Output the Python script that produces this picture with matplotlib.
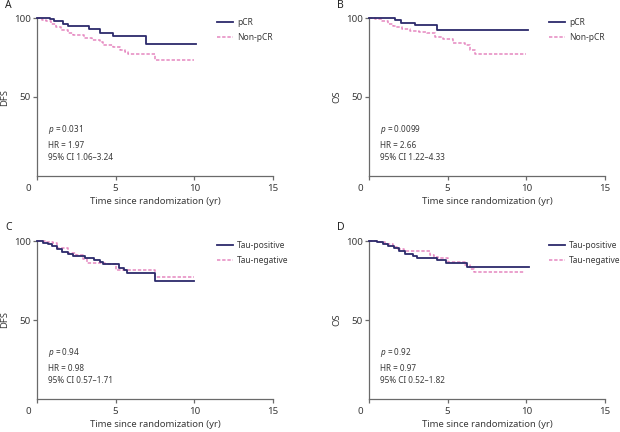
import matplotlib
matplotlib.use("Agg")
import matplotlib.pyplot as plt
import matplotlib.transforms as mtransforms

plt.rcParams['font.family'] = ['Noto Sans', 'DejaVu Sans']
plt.rcParams['mathtext.fontset'] = 'custom'
plt.rcParams['mathtext.it'] = 'Noto Sans:italic'
plt.rcParams['mathtext.rm'] = 'Noto Sans'

# ---------------- data ----------------
x_ticks = [0, 5, 10, 15]
y_ticks = [50, 100]
x_label = "Time since randomization (yr)"

# Panel A (DFS, pCR vs Non-pCR)
A_pcr_t = [0, 0.8, 1.1, 1.65, 2.0, 3.3, 4.0, 4.85, 6.95, 10.1]
A_pcr_s = [100, 99.5, 98, 96.5, 95, 92.8, 90.7, 88.8, 83.5, 83.5]
A_non_t = [0, 0.3, 0.6, 0.9, 1.2, 1.5, 2.0, 2.3, 3.0, 3.5, 4.0, 4.2, 4.8, 5.3, 5.6, 5.8, 7.5, 10.0]
A_non_s = [100, 99, 98, 96, 94, 92.5, 90.5, 89, 87.5, 86, 84.5, 83, 81.5, 80, 78.5, 77, 73.5, 73.5]

# Panel B (OS, pCR vs Non-pCR)
B_pcr_t = [0, 1.65, 2.05, 2.95, 4.3, 10.1]
B_pcr_s = [100, 98.6, 96.7, 95.7, 92.3, 92.3]
B_non_t = [0, 0.4, 0.8, 1.2, 1.5, 1.7, 2.1, 2.6, 3.2, 3.7, 4.2, 4.7, 5.35, 6.1, 6.4, 6.75, 10.0]
B_non_s = [100, 99.2, 98.3, 96.2, 95, 94.1, 93, 92, 91, 90.2, 88.2, 86.5, 84.4, 82.9, 79.7, 77, 77]

# Panel C (DFS, Tau-positive vs Tau-negative)
C_pos_t = [0, 0.4, 0.7, 0.95, 1.25, 1.6, 2.0, 2.3, 3.05, 3.6, 4.0, 4.2, 5.2, 5.5, 5.7, 7.5, 10.0]
C_pos_s = [100, 99, 98, 97, 95, 93, 92, 90.8, 89.5, 88, 86.7, 85.4, 83, 81.5, 80, 74.7, 74.7]
C_neg_t = [0, 0.5, 1.0, 1.3, 2.0, 2.5, 2.9, 3.2, 4.3, 5.0, 7.5, 10.0]
C_neg_s = [100, 99.3, 98.5, 95.4, 92.5, 91, 88.5, 86.2, 85.3, 81.5, 77.4, 77.4]

# Panel D (OS, Tau-positive vs Tau-negative)
D_pos_t = [0, 0.5, 0.9, 1.2, 1.6, 1.9, 2.3, 2.8, 3.05, 4.3, 4.9, 6.2, 10.2]
D_pos_s = [100, 99.3, 98.3, 97, 95.4, 93.5, 91.8, 90.3, 89, 87.9, 86.3, 83.6, 83.6]
D_neg_t = [0, 0.6, 1.0, 1.5, 1.8, 2.2, 3.85, 4.1, 4.4, 5.0, 6.1, 6.4, 6.7, 9.9]
D_neg_s = [100, 99.3, 98.3, 96.4, 95, 93.5, 91.2, 90, 89, 86.8, 84.8, 82.5, 80.2, 80.2]

panel_letters = ["A", "B", "C", "D"]
y_labels = ["DFS", "OS", "DFS", "OS"]
series_labels = [("pCR", "Non-pCR"), ("pCR", "Non-pCR"),
                 ("Tau-positive", "Tau-negative"), ("Tau-positive", "Tau-negative")]
p_values = ["0.031", "0.0099", "0.94", "0.92"]
hr_values = ["1.97", "2.66", "0.98", "0.97"]
ci_values = ["1.06\u20133.24", "1.22\u20134.33", "0.57\u20131.71", "0.52\u20131.82"]

curves = [((A_pcr_t, A_pcr_s), (A_non_t, A_non_s)),
          ((B_pcr_t, B_pcr_s), (B_non_t, B_non_s)),
          ((C_pos_t, C_pos_s), (C_neg_t, C_neg_s)),
          ((D_pos_t, D_pos_s), (D_neg_t, D_neg_s))]

# ---------------- style ----------------
W, H = 620, 432
navy = "#2c2a6b"
pink = "#e587c0"
axis_col = "#6a6a6a"
text_col = "#3a3a3a"

fig = plt.figure(figsize=(W / 100, H / 100), dpi=100)

# axes rectangles in pixels: (left, top(100))
rects = [(37, 18), (369, 18), (37, 241), (369, 241)]
aw, ah = 236, 158

for i, (lx, ty) in enumerate(rects):
    ax = fig.add_axes([lx / W, 1 - (ty + ah) / H, aw / W, ah / H])
    (t1, s1), (t2, s2) = curves[i]
    ax.step(t1, s1, where="post", color=navy, lw=1.3, clip_on=False,
            label=series_labels[i][0], zorder=3)
    ax.step(t2, s2, where="post", color=pink, lw=1.1, ls=(0, (2.2, 1.2)),
            clip_on=False, label=series_labels[i][1], zorder=2)
    ax.set_xlim(0, 15)
    ax.set_ylim(0, 100)
    ax.set_xticks(x_ticks)
    ax.set_xticklabels([str(v) for v in x_ticks])
    ax.set_yticks(y_ticks)
    ax.set_yticklabels([str(v) for v in y_ticks])
    for sp in ["top", "right"]:
        ax.spines[sp].set_visible(False)
    for sp in ["left", "bottom"]:
        ax.spines[sp].set_color(axis_col)
        ax.spines[sp].set_linewidth(0.9)
    ax.tick_params(axis="both", direction="out", length=3, width=0.9,
                   color=axis_col, labelsize=7, labelcolor=text_col)
    ax.tick_params(axis="x", pad=2.5)
    ax.tick_params(axis="y", pad=1.5)
    # shift the "0" x tick label left of the y axis
    lab0 = ax.get_xticklabels()[0]
    lab0.set_transform(lab0.get_transform() +
                       mtransforms.ScaledTranslation(-9 / 100, 0, fig.dpi_scale_trans))
    ax.set_xlabel(x_label, fontsize=6.8, color=text_col)
    ax.xaxis.set_label_coords(0.5, -0.133)
    ax.set_ylabel(y_labels[i], fontsize=6.8, color=text_col)
    ax.yaxis.set_label_coords(-0.118, 0.5)

    leg = ax.legend(loc="upper left", bbox_to_anchor=(0.763, 1.0), frameon=False,
                    fontsize=6.1, handlelength=1.9, handletextpad=0.45,
                    labelspacing=0.65, borderpad=0, borderaxespad=0)
    for t in leg.get_texts():
        t.set_color(text_col)

    ax.text(0.045, 0.297, "$p$ = " + p_values[i], transform=ax.transAxes,
            fontsize=5.9, color=text_col, va="center")
    ax.text(0.045, 0.19, "HR = " + hr_values[i], transform=ax.transAxes,
            fontsize=5.9, color=text_col, va="center")
    ax.text(0.045, 0.114, "95% CI " + ci_values[i], transform=ax.transAxes,
            fontsize=5.9, color=text_col, va="center")

    fig.text((lx - 32) / W, 1 - (ty - 13) / H, panel_letters[i], fontsize=7.5,
             fontweight="bold", va="center", ha="left", color="#222222")

fig.savefig("out.png", dpi=100)
